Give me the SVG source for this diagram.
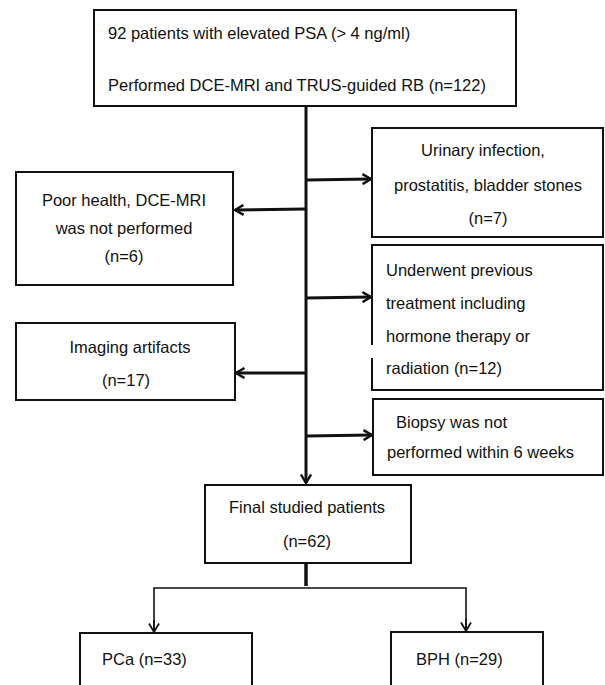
<svg xmlns="http://www.w3.org/2000/svg" width="605" height="685" viewBox="0 0 605 685">
<style>
.box{fill:#fff;stroke:#111;stroke-width:2}
text{font-family:"Liberation Sans",Arial,sans-serif;font-size:16.5px;fill:#111}
.c{text-anchor:middle}
.thick{fill:none;stroke:#111;stroke-width:3}
.thin{fill:none;stroke:#111;stroke-width:1.6}
</style>
<defs>
<marker id="ah" viewBox="0 0 10 12" refX="9.5" refY="6" markerWidth="10" markerHeight="12" markerUnits="userSpaceOnUse" orient="auto">
<path d="M1,1 L9.5,6 L1,11" fill="none" stroke="#111" stroke-width="2.4"/>
</marker>
<marker id="ah2" viewBox="0 0 10 12" refX="9.5" refY="6" markerWidth="10" markerHeight="14" markerUnits="userSpaceOnUse" orient="auto">
<path d="M1,1 L9.5,6 L1,11" fill="none" stroke="#111" stroke-width="1.8"/>
</marker>
</defs>
<rect width="605" height="685" fill="#fff"/>
<g id="connectors">
<line class="thick" x1="306" y1="106" x2="306" y2="483" marker-end="url(#ah)"/>
<line class="thick" x1="306" y1="180" x2="371" y2="179" marker-end="url(#ah)"/>
<line class="thick" x1="306" y1="209" x2="235" y2="210" marker-end="url(#ah)"/>
<line class="thick" x1="306" y1="298" x2="371" y2="297" marker-end="url(#ah)"/>
<line class="thick" x1="306" y1="373" x2="236" y2="373" marker-end="url(#ah)"/>
<line class="thick" x1="306" y1="436" x2="372" y2="435" marker-end="url(#ah)"/>
<line x1="306" y1="563" x2="306" y2="586" stroke="#111" stroke-width="3.5"/>
<polyline class="thin" points="154,632 154,588 466,588 466,631"/>
<line class="thin" x1="154" y1="620" x2="154" y2="632" marker-end="url(#ah2)"/>
<line class="thin" x1="466" y1="619" x2="466" y2="631" marker-end="url(#ah2)"/>
</g>
<g id="n-start">
<rect class="box" x="94" y="10" width="422" height="96"/>
<text x="108" y="39">92 patients with elevated PSA (&gt; 4 ng/ml)</text>
<text x="108" y="91">Performed DCE-MRI and TRUS-guided RB (n=122)</text>
</g>
<g id="n-urinary">
<rect class="box" x="372" y="128" width="231" height="109"/>
<text class="c" x="483" y="156">Urinary infection,</text>
<text class="c" x="488" y="191">prostatitis, bladder stones</text>
<text class="c" x="488" y="224">(n=7)</text>
</g>
<g id="n-poor">
<rect class="box" x="16" y="172" width="217" height="113"/>
<text class="c" x="124" y="206">Poor health, DCE-MRI</text>
<text class="c" x="124" y="234">was not performed</text>
<text class="c" x="124" y="262">(n=6)</text>
</g>
<g id="n-previous">
<rect class="box" x="372" y="245" width="231" height="145"/>
<rect x="368" y="345" width="10" height="13" fill="#fff"/>
<text x="386" y="276">Underwent previous</text>
<text x="386" y="309">treatment including</text>
<text x="386" y="342">hormone therapy or</text>
<text x="386" y="374">radiation (n=12)</text>
</g>
<g id="n-imaging">
<rect class="box" x="16" y="323" width="219" height="77"/>
<text class="c" x="130" y="353">Imaging artifacts</text>
<text class="c" x="126" y="386">(n=17)</text>
</g>
<g id="n-biopsy">
<rect class="box" x="373" y="399" width="230" height="76"/>
<text x="396" y="428">Biopsy was not</text>
<text x="387" y="458">performed within 6 weeks</text>
</g>
<g id="n-final">
<rect class="box" x="205" y="485" width="206" height="78"/>
<text class="c" x="307" y="513">Final studied patients</text>
<text class="c" x="307" y="547">(n=62)</text>
</g>
<g id="n-pca">
<rect class="box" x="80" y="633" width="172" height="60"/>
<text x="102" y="665">PCa (n=33)</text>
</g>
<g id="n-bph">
<rect class="box" x="391" y="632" width="152" height="60"/>
<text x="416" y="665">BPH (n=29)</text>
</g>
</svg>
